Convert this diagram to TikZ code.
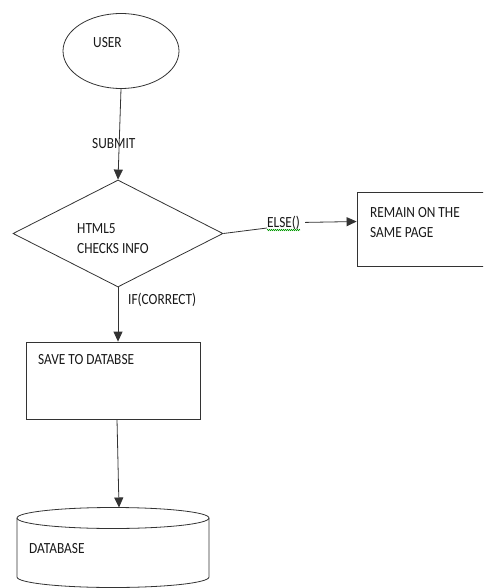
\documentclass[tikz,border=0pt]{standalone}
\usepackage{fontspec}
\setmainfont[FakeStretch=0.86]{Carlito}
\usetikzlibrary{shapes.geometric,arrows.meta,calc,decorations.pathmorphing}

\tikzset{
  ink/.style={draw=black!80, line width=0.8pt},
  flow/.style={ink, -{Triangle[length=10pt,width=9pt]}},
  caption/.style={anchor=base west, inner sep=0pt, text=black!90,
                  font=\fontsize{15.5}{20}\selectfont},
  boxshape/.style={ink, rectangle, inner sep=0pt},
}

\begin{document}
\begin{tikzpicture}[x=1pt,y=-1pt]
\useasboundingbox (0,0) rectangle (483,588);
\clip (0,0) rectangle (483,588);

% shapes
\node[ink, ellipse, minimum width=116pt, minimum height=75pt, inner sep=0pt] (user) at (121,51) {};
\node[ink, diamond, aspect=1.96, minimum width=210pt, minimum height=107pt, inner sep=0pt] (chk) at (118,233.5) {};
\node[boxshape, minimum width=150pt, minimum height=74pt] (remain) at (432,229) {};
\node[boxshape, minimum width=174pt, minimum height=77pt] (save) at (113,380.5) {};

% database cylinder
\coordinate (dbtop) at (119,507.5);
\draw[ink] (113,518) ellipse [x radius=96pt, y radius=10.5pt];
\draw[ink] (17,518) -- (17,577) arc [start angle=180, end angle=360, x radius=96pt, y radius=10.5pt] -- (209,518);

% texts
\node[caption] (userlbl) at (93,48) {USER};
\node[caption] (submitlbl) at (92,149) {SUBMIT};
\node[caption] (htmllbl) at (77,233) {HTML5};
\node[caption] (checkslbl) at (77,253) {CHECKS INFO};
\node[caption] (elselbl) at (267,227) {ELSE()};
\node[caption] (remainlbl) at (370,217) {REMAIN ON THE};
\node[caption] (samelbl) at (370,237) {SAME PAGE};
\node[caption] (iflbl) at (128,304) {IF(CORRECT)};
\node[caption] (savelbl) at (38,364) {SAVE TO DATABSE};
\node[caption] (dblbl) at (29,553) {DATABASE};

% spelling underline below ELSE()
\draw[green!60!black, line width=0.5pt, decorate,
      decoration={zigzag, amplitude=0.7pt, segment length=2pt}]
  ([yshift=-3pt]elselbl.base west) -- ([yshift=-3pt]elselbl.base east);

% connectors
\draw[flow] (user.south) -- (chk.north);
\draw[ink] (chk.east) -- ([yshift=-1pt]elselbl.base west);
\draw[flow] ([xshift=5pt]elselbl.east) -- ($(remain.north west)!0.4!(remain.south west)$);
\draw[flow] (chk.south) -- (chk.south |- save.north);
\draw[flow] ([xshift=4pt]save.south) -- (dbtop);
\end{tikzpicture}
\end{document}
